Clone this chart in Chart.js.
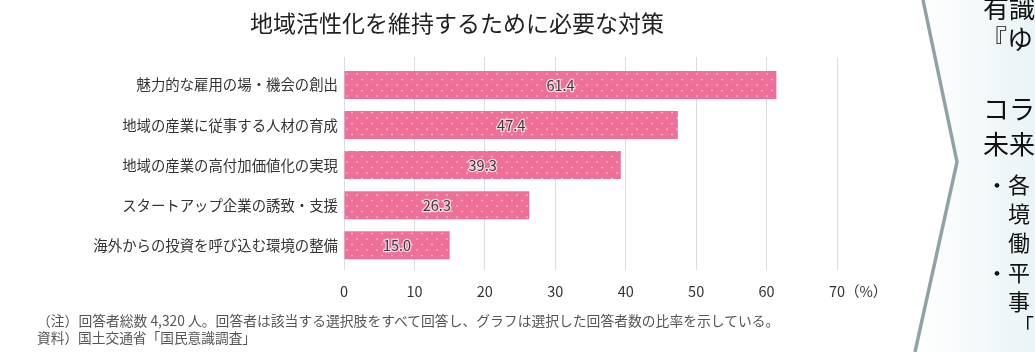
<!DOCTYPE html>
<html lang="ja">
<head>
<meta charset="utf-8">
<script src="https://cdn.jsdelivr.net/npm/chart.js@4.4.1/dist/chart.umd.min.js"></script>
<style>
  html, body { margin: 0; padding: 0; background: #fff; }
  body { width: 1035px; height: 352px; overflow: hidden; position: relative;
         font-family: "Noto Sans CJK JP", "Noto Sans", sans-serif; }
  #chartBox { position: absolute; left: 0; top: 0; width: 915px; height: 315px; }
  #title { position: absolute; left: 0; top: 8px; width: 914px; text-align: center; font-size: 23px; color: #222; line-height: 28px; }
  .note { position: absolute; left: 37px; font-size: 13.8px; color: #555; white-space: nowrap; }
  #side { position: absolute; left: 0; top: 0; width: 1035px; height: 352px; pointer-events: none; }
  .sideText { position: absolute; color: #111; white-space: nowrap; line-height: 1; }
</style>
</head>
<body>
<div id="chartBox"><canvas id="barChart" width="915" height="315"></canvas></div>
<div id="title"></div>
<div class="note" style="top:310px">（注）回答者総数 4,320 人。回答者は該当する選択肢をすべて回答し、グラフは選択した回答者数の比率を示している。</div>
<div class="note" style="top:327px; font-size:13.7px">資料）国土交通省「国民意識調査」</div>

<svg id="side" width="1035" height="352">
  <defs>
    <linearGradient id="bg" x1="0" y1="0" x2="1" y2="0">
      <stop offset="0" stop-color="#ffffff"/>
      <stop offset="1" stop-color="#eaf3f5"/>
    </linearGradient>
  </defs>
  <polygon points="923,0 1035,0 1035,352 915,352 957,162" fill="url(#bg)"/>
  <polyline points="923,0 957,162 915,352" fill="none" stroke="#8fa3a6" stroke-width="3.5"/>
</svg>
<div class="sideText" style="left:983px; top:-6px; font-size:26px">有識</div>
<div class="sideText" style="left:981px; top:25px; font-size:26px">『ゆ</div>
<div class="sideText" style="left:983px; top:95px; font-size:26px">コラ</div>
<div class="sideText" style="left:983px; top:130px; font-size:26px">未来</div>
<div class="sideText" style="left:986px; top:172px; font-size:22px">・各</div>
<div class="sideText" style="left:1008px; top:201px; font-size:22px">境</div>
<div class="sideText" style="left:1008px; top:230px; font-size:22px">働</div>
<div class="sideText" style="left:986px; top:260px; font-size:22px">・平</div>
<div class="sideText" style="left:1008px; top:289px; font-size:22px">事</div>
<div class="sideText" style="left:1014px; top:316px; font-size:20px">「</div>

<script>
// data
const categories = [
    '魅力的な雇用の場・機会の創出',
    '地域の産業に従事する人材の育成',
    '地域の産業の高付加価値化の実現',
    'スタートアップ企業の誘致・支援',
    '海外からの投資を呼び込む環境の整備'
];
const values = [61.4, 47.4, 39.3, 26.3, 15.0];
const xTicks = [0, 10, 20, 30, 40, 50, 60, 70];
const unitLabel = '（%）';
const chartTitle = '地域活性化を維持するために必要な対策';

const FONT = '"Noto Sans CJK JP", "Noto Sans", sans-serif';
document.getElementById('title').textContent = chartTitle;

// pink bars with small white dots
function makeDots() {
    const c = document.createElement('canvas');
    c.width = 10;
    c.height = 11;
    const g = c.getContext('2d');
    g.fillStyle = '#ee6f98';
    g.fillRect(0, 0, 10, 11);
    g.fillStyle = '#fbc9d8';
    [[2, 2.5], [7, 8]].forEach(function(p) {
        g.beginPath();
        g.arc(p[0], p[1], 0.85, 0, Math.PI * 2);
        g.fill();
    });
    return g.createPattern(c, 'repeat');
}

const valueLabels = {
    id: 'valueLabels',
    afterDatasetsDraw(chart) {
        const ctx = chart.ctx;
        const meta = chart.getDatasetMeta(0);
        ctx.save();
        ctx.font = '14.5px ' + FONT;
        ctx.textAlign = 'center';
        ctx.textBaseline = 'middle';
        meta.data.forEach(function(bar, i) {
            const x = (bar.x + bar.base) / 2;
            const txt = values[i].toFixed(1);
            ctx.lineWidth = 2.5;
            ctx.strokeStyle = 'rgba(255,235,242,0.85)';
            ctx.strokeText(txt, x, bar.y);
            ctx.fillStyle = '#3a3a3a';
            ctx.fillText(txt, x, bar.y);
        });
        ctx.restore();
    }
};

// "(%)" after the last tick label, on the same line
const unitMark = {
    id: 'unitMark',
    afterDraw(chart) {
        const xs = chart.scales.x;
        const items = xs.getLabelItems();
        const last = items[items.length - 1];
        const ctx = chart.ctx;
        ctx.save();
        ctx.font = '14.5px ' + FONT;
        ctx.fillStyle = '#333';
        ctx.textAlign = 'left';
        ctx.textBaseline = last.options.textBaseline;
        ctx.fillText(unitLabel, xs.getPixelForValue(xTicks[xTicks.length - 1]) + 8,
            last.options.translation[1] + (last.textOffset || 0));
        ctx.restore();
    }
};

new Chart(document.getElementById('barChart'), {
    type: 'bar',
    data: {
        datasets: [{
            data: values.map(function(v, i) { return { x: v, y: i }; }),
            backgroundColor: makeDots(),
            borderWidth: 0,
            barPercentage: 0.7,
            categoryPercentage: 1
        }]
    },
    plugins: [valueLabels, unitMark],
    options: {
        indexAxis: 'y',
        responsive: false,
        animation: false,
        layout: { padding: { left: 0, right: 78, top: 57, bottom: 1.6 } },
        scales: {
            x: {
                type: 'linear',
                position: 'bottom',
                min: xTicks[0],
                max: xTicks[xTicks.length - 1],
                afterBuildTicks: function(s) { s.ticks = xTicks.map(function(v) { return { value: v }; }); },
                ticks: { font: { family: FONT, size: 14.5 }, color: '#333', padding: 13, maxRotation: 0 },
                grid: { color: '#dcdcdc', drawTicks: false },
                border: { display: false }
            },
            y: {
                type: 'linear',
                reverse: true,
                offset: false,
                min: -0.7,
                max: 4.62,
                afterBuildTicks: function(s) { s.ticks = categories.map(function(c, i) { return { value: i }; }); },
                afterFit: function(s) { s.width = 344; },
                ticks: {
                    autoSkip: false,
                    font: { family: FONT, size: 14.4 },
                    color: '#333',
                    padding: 6,
                    callback: function(v) { return categories[v]; }
                },
                grid: { display: false, drawTicks: false },
                border: { display: false }
            }
        },
        plugins: {
            legend: { display: false },
            tooltip: { enabled: false },
            title: { display: false }
        }
    }
});
</script>
</body>
</html>
